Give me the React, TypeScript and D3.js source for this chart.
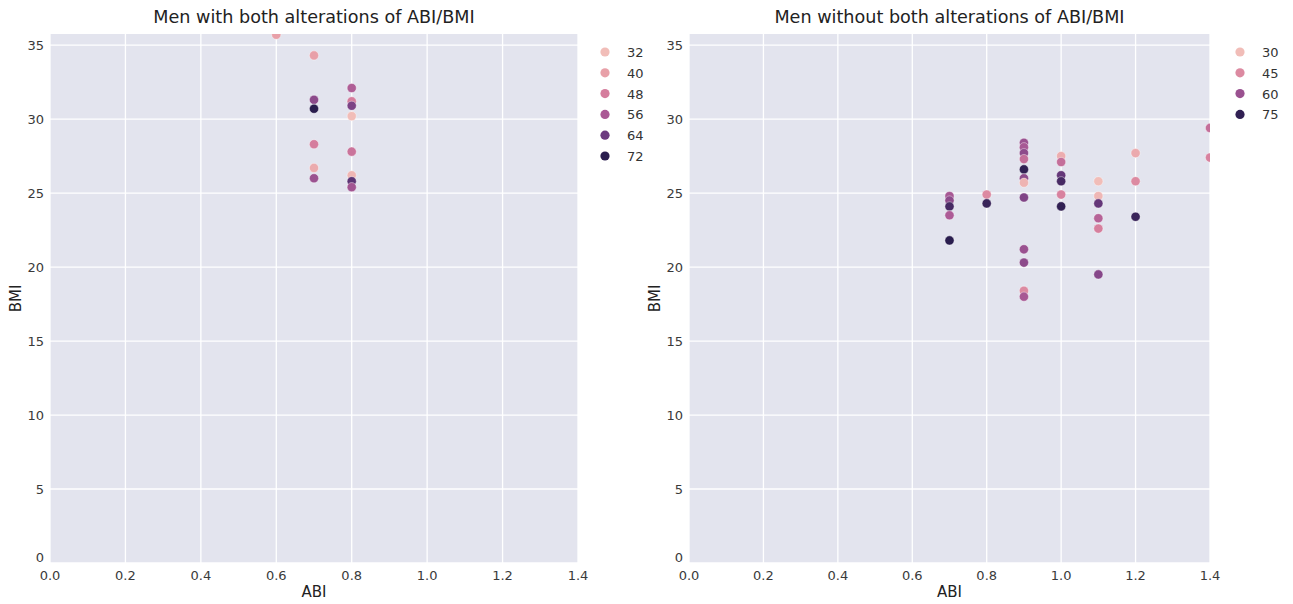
import React, { useEffect, useRef } from 'react';
import * as d3 from 'd3';

// left panel: men with both alterations
const leftAbi = [0.6, 0.7, 0.7, 0.7, 0.7, 0.7, 0.7, 0.8, 0.8, 0.8, 0.8, 0.8, 0.8, 0.8, 0.8];
const leftBmi = [35.7, 34.3, 31.3, 30.7, 28.3, 26.7, 26.0, 32.1, 31.2, 30.9, 30.2, 27.8, 26.2, 25.8, 25.4];
const leftAge = [40, 40, 60, 72, 48, 37, 58, 55, 48, 62, 32, 50, 34, 66, 57];
const leftLegend = [32, 40, 48, 56, 64, 72];

// right panel: men without both alterations
const rightAbi = [
  0.7, 0.7, 0.7, 0.7, 0.7,
  0.8, 0.8,
  0.9, 0.9, 0.9, 0.9, 0.9, 0.9, 0.9, 0.9, 0.9, 0.9, 0.9, 0.9,
  1.0, 1.0, 1.0, 1.0, 1.0, 1.0,
  1.1, 1.1, 1.1, 1.1, 1.1, 1.1,
  1.2, 1.2, 1.2,
  1.4, 1.4,
];
const rightBmi = [
  24.8, 24.5, 24.1, 23.5, 21.8,
  24.9, 24.3,
  28.4, 28.1, 27.7, 27.3, 26.6, 26.0, 25.7, 24.7, 21.2, 20.3, 18.4, 18.0,
  27.5, 27.1, 26.2, 25.8, 24.9, 24.1,
  25.8, 24.8, 24.3, 23.3, 22.6, 19.5,
  27.7, 25.8, 23.4,
  29.4, 27.4,
];
const rightAge = [
  58, 62, 72, 57, 76,
  45, 74,
  60, 58, 62, 52, 75, 62, 33, 64, 60, 62, 45, 58,
  35, 52, 68, 72, 47, 75,
  30, 32, 68, 55, 48, 63,
  36, 45, 74,
  52, 47,
];
const rightLegend = [30, 45, 60, 75];

const xTicks = [0, 0.2, 0.4, 0.6, 0.8, 1.0, 1.2, 1.4];
const yTicks = [0, 5, 10, 15, 20, 25, 30, 35];

// light pink -> dark purple, sampled off the legend swatches
const paletteStops = ['#f1bdb8', '#e8a0a8', '#d57d9d', '#aa5995', '#6d3b80', '#2a1d4e'];
const palette = d3.scaleLinear<string>()
  .domain(paletteStops.map((_, i) => i / (paletteStops.length - 1)))
  .range(paletteStops)
  .interpolate(d3.interpolateRgb);

const W = 1293;
const H = 604;
const FONT = 'DejaVu Sans, sans-serif';

function drawPanel(svg: any, opts: any) {
  const { left, right, top, bottom, abi, bmi, age, legend, title, legendX, id } = opts;
  const x = d3.scaleLinear().domain([0, 1.4]).range([left, right]);
  const y = d3.scaleLinear().domain([0, 35.75]).range([bottom, top]);
  const [amin, amax] = d3.extent(age) as [number, number];
  const color = (v: number) => palette((v - amin) / (amax - amin));

  svg.append('rect')
    .attr('x', left).attr('y', top)
    .attr('width', right - left).attr('height', bottom - top)
    .attr('fill', '#e3e4ee');

  svg.append('clipPath').attr('id', id)
    .append('rect')
    .attr('x', left).attr('y', top)
    .attr('width', right - left).attr('height', bottom - top);

  const grid = svg.append('g').attr('stroke', '#ffffff').attr('stroke-width', 1.3);
  xTicks.forEach(t => {
    grid.append('line').attr('x1', x(t)).attr('x2', x(t)).attr('y1', top).attr('y2', bottom);
  });
  yTicks.forEach(t => {
    grid.append('line').attr('x1', left).attr('x2', right).attr('y1', y(t)).attr('y2', y(t));
  });

  const pts = svg.append('g').attr('clip-path', `url(#${id})`);
  abi.forEach((a: number, i: number) => {
    pts.append('circle')
      .attr('cx', x(a)).attr('cy', y(bmi[i])).attr('r', 4.6)
      .attr('fill', color(age[i]))
      .attr('stroke', '#ffffff').attr('stroke-width', 0.4);
  });

  const tickText = svg.append('g')
    .attr('font-family', FONT).attr('font-size', 13).attr('fill', '#3a3a3a');
  xTicks.forEach(t => {
    tickText.append('text')
      .attr('x', x(t)).attr('y', bottom + 17)
      .attr('text-anchor', 'middle')
      .text(d3.format('.1f')(t));
  });
  yTicks.forEach(t => {
    tickText.append('text')
      .attr('x', left - 6).attr('y', y(t) + (t === 0 ? -1 : 5))
      .attr('text-anchor', 'end')
      .text(t);
  });

  svg.append('text')
    .attr('x', (left + right) / 2).attr('y', 23)
    .attr('text-anchor', 'middle')
    .attr('font-family', FONT).attr('font-size', 17.6).attr('fill', '#222')
    .text(title);

  svg.append('text')
    .attr('x', (left + right) / 2).attr('y', 597)
    .attr('text-anchor', 'middle')
    .attr('font-family', FONT).attr('font-size', 15).attr('fill', '#222')
    .text('ABI');

  svg.append('text')
    .attr('transform', `translate(${left - 29},${(top + bottom) / 2}) rotate(-90)`)
    .attr('text-anchor', 'middle')
    .attr('font-family', FONT).attr('font-size', 15).attr('fill', '#222')
    .text('BMI');

  const leg = svg.append('g');
  legend.forEach((v: number, i: number) => {
    const ly = 52 + i * 20.8;
    leg.append('circle').attr('cx', legendX).attr('cy', ly).attr('r', 4.6).attr('fill', color(v));
    leg.append('text')
      .attr('x', legendX + 22).attr('y', ly + 5)
      .attr('font-family', FONT).attr('font-size', 13).attr('fill', '#333')
      .text(v);
  });
}

const App = () => {
  const ref = useRef<SVGSVGElement>(null);

  useEffect(() => {
    const svg = d3.select(ref.current);
    svg.selectAll('*').remove();

    drawPanel(svg, {
      id: 'clipL', left: 50, right: 578, top: 34, bottom: 563,
      abi: leftAbi, bmi: leftBmi, age: leftAge, legend: leftLegend,
      title: 'Men with both alterations of ABI/BMI', legendX: 605,
    });
    drawPanel(svg, {
      id: 'clipR', left: 689, right: 1210, top: 34, bottom: 563,
      abi: rightAbi, bmi: rightBmi, age: rightAge, legend: rightLegend,
      title: 'Men without both alterations of ABI/BMI', legendX: 1240,
    });
  }, []);

  return (
    <div style={{ position: 'absolute', left: 0, top: 0 }}>
      <svg ref={ref} width={W} height={H} style={{ display: 'block', background: '#fff' }}></svg>
    </div>
  );
};

export default App;
